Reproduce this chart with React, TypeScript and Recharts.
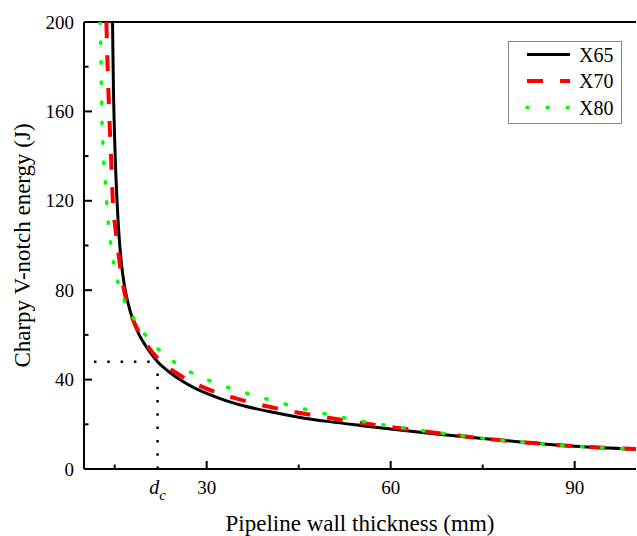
import React from "react";
import { LineChart, Line, XAxis, YAxis, ReferenceLine, Legend } from "recharts";

// ---- data ----
const X65_THICKNESS = [14.65, 14.8, 15.05, 15.35, 15.7, 16.1, 16.6, 17.2, 18.0, 19.0, 20.2, 22, 24, 26, 28, 30, 33, 36, 40, 45, 50, 55, 60, 67, 75, 82, 90, 100];
const X65_ENERGY = [200, 170, 143, 122, 105, 92, 82, 74, 66.5, 60, 54.5, 48, 43.2, 39.4, 36.3, 33.8, 30.7, 28.3, 25.8, 23.2, 21.2, 19.5, 17.9, 15.8, 13.6, 11.9, 10.2, 8.9];

const X70_THICKNESS = [13.65, 13.85, 14.1, 14.4, 14.7, 15.1, 15.5, 16.0, 16.6, 17.3, 18.2, 19.0, 20.5, 22.2, 24.5, 26.7, 29, 31.9, 34.5, 37.1, 42.5, 47.6, 52.5, 58, 65, 75, 82, 90, 100];
const X70_ENERGY = [200, 180, 160, 140, 120, 108, 99, 88.5, 79, 72, 65.5, 61, 54.5, 49, 44, 40.2, 37.1, 34, 31.8, 29.8, 26.5, 23.9, 21.8, 19.5, 17.0, 13.7, 11.9, 10.2, 8.9];

const X80_THICKNESS = [12.65, 12.8, 12.9, 13.1, 13.55, 13.9, 14.3, 14.9, 15.7, 16.8, 18.3, 20, 22.2, 24.9, 27.6, 30.6, 33.6, 36.8, 39.8, 43, 46.3, 49.2, 52.5, 55.7, 59, 62.2, 68.4, 74.6, 81.4, 87.6, 94.1, 100];
const X80_ENERGY = [200, 180, 160, 144, 126, 112, 102, 91, 82, 74, 66.5, 60, 53.4, 47.5, 43, 39.4, 36.4, 33.7, 31.3, 28.9, 26.6, 24.7, 22.8, 21.2, 19.7, 18.3, 16.0, 13.9, 12.0, 10.6, 9.6, 8.9];

const SERIES_NAMES = ["X65", "X70", "X80"];

const DC_THICKNESS = 22;
const DC_ENERGY = 48;

const X_DOMAIN = [10, 100];
const Y_DOMAIN = [0, 200];
const X_TICKS = [15, DC_THICKNESS, 30, 45, 60, 75, 90];
const X_TICK_LABELS = [30, 60, 90];
const Y_TICKS = [0, 20, 40, 60, 80, 100, 120, 140, 160, 180, 200];
const Y_TICK_LABELS = [0, 40, 80, 120, 160, 200];

const X_TITLE = "Pipeline wall thickness (mm)";
const Y_TITLE = "Charpy V-notch energy (J)";

const toPoints = (t: number[], e: number[]) => t.map((v, i) => ({ t: v, e: e[i] }));
const SERIES_DATA = [
  toPoints(X65_THICKNESS, X65_ENERGY),
  toPoints(X70_THICKNESS, X70_ENERGY),
  toPoints(X80_THICKNESS, X80_ENERGY),
];

// ---- styles ----
const FONT = '"Liberation Serif", "DejaVu Serif", serif';
const TXT = { fontFamily: FONT };
const SERIES_STYLE = [
  { stroke: "#000000", strokeWidth: 3, strokeDasharray: undefined as string | undefined, legendDash: undefined as string | undefined, strokeLinecap: "butt" as const },
  { stroke: "#ff0000", strokeWidth: 4, strokeDasharray: "16 17", legendDash: "16 17", strokeLinecap: "butt" as const },
  { stroke: "#00ff00", strokeWidth: 3.5, strokeDasharray: "1.5 18.5", legendDash: "1 19", strokeLinecap: "round" as const },
];

const XTick = (props: any) => {
  const { x, y, payload } = props;
  const v = payload.value;
  if (v === DC_THICKNESS) {
    return (
      <text x={x} y={y + 25} textAnchor="middle" style={TXT} fontStyle="italic" fontSize={20} fill="#000">
        d<tspan fontSize={15} dy={6}>c</tspan>
      </text>
    );
  }
  const major = X_TICK_LABELS.includes(v);
  return (
    <g>
      <line x1={x} x2={x} y1={y} y2={y - (major ? 8 : 4.5)} stroke="#000" strokeWidth={2} />
      {major && (
        <text x={x} y={y + 25} textAnchor="middle" style={TXT} fontSize={19} fill="#000">
          {v}
        </text>
      )}
    </g>
  );
};

const YTick = (props: any) => {
  const { x, y, payload } = props;
  const v = payload.value;
  const major = Y_TICK_LABELS.includes(v);
  return (
    <g>
      <line x1={x} x2={x + (major ? 8 : 4.5)} y1={y} y2={y} stroke="#000" strokeWidth={2} />
      {major && (
        <text x={x - 10} y={y + 6.5} textAnchor="end" style={TXT} fontSize={19} fill="#000">
          {v}
        </text>
      )}
    </g>
  );
};

const renderLegend = (props: any) => {
  const payload = props.payload || [];
  return (
    <svg width={114} height={83} style={{ display: "block" }}>
      <rect x={0.5} y={0.5} width={113} height={82} fill="#fff" stroke="#888" strokeWidth={1} />
      {payload.map((p: any, i: number) => {
        const st = SERIES_STYLE[i];
        const cy = 13.5 + i * 26.5;
        return (
          <g key={i}>
            <line
              x1={19}
              x2={62}
              y1={cy}
              y2={cy}
              stroke={st.stroke}
              strokeWidth={st.strokeWidth}
              strokeDasharray={st.legendDash}
              strokeLinecap={st.strokeLinecap}
            />
            <text x={71} y={cy + 7} style={TXT} fontSize={20} fill="#000">
              {p.value}
            </text>
          </g>
        );
      })}
    </svg>
  );
};

export default function App() {
  return (
    <div style={{ position: "absolute", left: 0, top: 0, width: 637, height: 536, background: "#fff", fontFamily: FONT }}>
      <LineChart
        width={637}
        height={536}
        margin={{ top: 22, right: 1, bottom: 0, left: 0 }}
        style={{ fontFamily: FONT }}
      >
        <XAxis
          type="number"
          dataKey="t"
          domain={X_DOMAIN}
          allowDataOverflow
          ticks={X_TICKS}
          interval={0}
          height={67}
          tickSize={0}
          tickMargin={0}
          tickLine={false}
          tick={<XTick />}
          axisLine={{ stroke: "#000", strokeWidth: 2 }}
          label={(p: any) => {
            const vb = p.viewBox || {};
            return (
              <text x={vb.x + vb.width / 2} y={vb.y + 62} textAnchor="middle" style={TXT} fontSize={23} fill="#000">
                {X_TITLE}
              </text>
            );
          }}
        />
        <YAxis
          type="number"
          dataKey="e"
          domain={Y_DOMAIN}
          allowDataOverflow
          ticks={Y_TICKS}
          interval={0}
          width={84}
          tickSize={0}
          tickMargin={0}
          tickLine={false}
          tick={<YTick />}
          axisLine={{ stroke: "#000", strokeWidth: 2 }}
          label={(p: any) => {
            const vb = p.viewBox || {};
            const cx = 30;
            const cy = vb.y + vb.height / 2;
            return (
              <text
                x={cx}
                y={cy}
                transform={`rotate(-90 ${cx} ${cy})`}
                textAnchor="middle"
                style={TXT}
                fontSize={23}
                fill="#000"
              >
                {Y_TITLE}
              </text>
            );
          }}
        />
        <ReferenceLine y={Y_DOMAIN[1]} stroke="#000" strokeWidth={2} />
        <ReferenceLine
          segment={[{ x: X_DOMAIN[0], y: DC_ENERGY }, { x: DC_THICKNESS, y: DC_ENERGY }]}
          stroke="#000"
          strokeWidth={2.5}
          strokeDasharray="2.5 10.8"
          strokeDashoffset={-10}
        />
        <ReferenceLine
          segment={[{ x: DC_THICKNESS, y: 0 }, { x: DC_THICKNESS, y: DC_ENERGY }]}
          stroke="#000"
          strokeWidth={2.5}
          strokeDasharray="2.5 10.8"
        />
        {SERIES_NAMES.map((name, i) => (
          <Line
            key={name}
            name={name}
            data={SERIES_DATA[i]}
            dataKey="e"
            type="monotone"
            dot={false}
            activeDot={false}
            isAnimationActive={false}
            stroke={SERIES_STYLE[i].stroke}
            strokeWidth={SERIES_STYLE[i].strokeWidth}
            strokeDasharray={SERIES_STYLE[i].strokeDasharray}
            strokeLinecap={SERIES_STYLE[i].strokeLinecap}
          />
        ))}
        <Legend
          layout="vertical"
          verticalAlign="middle"
          align="center"
          content={renderLegend}
          wrapperStyle={{ position: "absolute", left: 508, top: 41, width: 114, height: 83 }}
        />
      </LineChart>
    </div>
  );
}
